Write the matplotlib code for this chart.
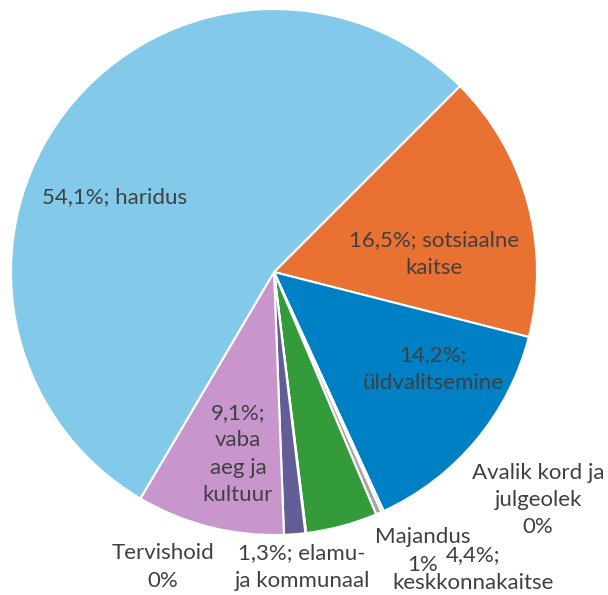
import numpy as np
import matplotlib.pyplot as plt

plt.rcParams['font.family'] = ['Lato', 'DejaVu Sans']

# values in clockwise order, starting at the upper right edge
categories = ['sotsiaalne kaitse', 'üldvalitsemine', 'Avalik kord ja julgeolek',
              'Majandus', 'keskkonnakaitse', 'Tervishoid',
              'elamu- ja kommunaal', 'vaba aeg ja kultuur', 'haridus']
shares = [16.5, 14.2, 0.15, 0.35, 4.4, 0.05, 1.3, 9.1, 54.1]
colors = ['#E97132', '#0080C4', '#7F7F7F', '#A6A6A6', '#349B3A', '#C0C0C0',
          '#625D97', '#C896CC', '#83CAEA']
labels = ['16,5%; sotsiaalne\nkaitse', '14,2%;\nüldvalitsemine',
          'Avalik kord ja\njulgeolek\n0%', 'Majandus\n1%', '4,4%;\nkeskkonnakaitse',
          'Tervishoid\n0%', '1,3%; elamu-\nja kommunaal', '9,1%;\nvaba\naeg ja\nkultuur',
          '54,1%; haridus']

W, H = 608, 595
cx, cy, r = 274, 272, 263
fig = plt.figure(figsize=(W / 100, H / 100), dpi=100)
fig.patch.set_facecolor('white')
ax = fig.add_axes([(cx - r) / W, 1 - (cy + r) / H, 2 * r / W, 2 * r / H])

wedges, _ = ax.pie(shares, colors=colors, startangle=45, counterclock=False,
                   wedgeprops=dict(edgecolor='white', linewidth=1.5))
ax.set_xlim(-1, 1)
ax.set_ylim(-1, 1)
ax.set_aspect('equal')

# label centres in pixels of the final image
label_pos = [(434, 254), (433, 369), (538, 500), (423, 551), (473, 569),
             (163, 567), (302, 567), (238, 454), (115, 197)]
for lab, (px, py) in zip(labels, label_pos):
    fig.text(px / W, 1 - py / H, lab, ha='center', va='center', fontsize=16,
             color='#404040', linespacing=1.45)

fig.savefig('out.png', dpi=100, facecolor='white')
